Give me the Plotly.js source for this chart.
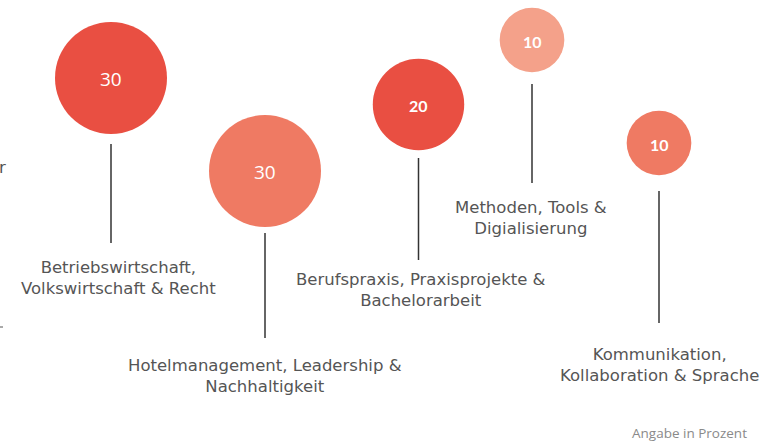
<!DOCTYPE html>
<html>
<head>
<meta charset="utf-8">
<script src="https://cdn.plot.ly/plotly-3.0.1.min.js"></script>
<style>html,body{margin:0;padding:0;background:#fff;}#chart{width:762px;height:442px;}</style>
</head>
<body>
<div id="chart"></div>
<script>
// ---- data ----
const categories = [
  "Betriebswirtschaft,<br>Volkswirtschaft & Recht",
  "Hotelmanagement, Leadership &<br>Nachhaltigkeit",
  "Berufspraxis, Praxisprojekte &<br>Bachelorarbeit",
  "Methoden, Tools &<br>Digialisierung",
  "Kommunikation,<br>Kollaboration & Sprache"
];
const values = [30, 30, 20, 10, 10];
const valueLabels = ["30", "30", "20", "10", "10"];
const note = "Angabe in Prozent";

// ---- layout (positions in the 762x442 canvas frame) ----
const bubbleX = [111, 265, 418.5, 532, 659];
const bubbleY = [78, 171, 104.5, 40, 143];
const lineTop = [144, 233, 158, 84, 191];
const lineBottom = [243, 338, 260, 183, 323];
const labelX = [118, 265, 421, 531, 659];
const labelY = [278, 376, 290, 218, 365];
const colors = ["#E94F42", "#EF7A63", "#E94F42", "#F4A18A", "#EF7A63"];
const numFonts = [
  {family: "Open Sans", size: 19, weight: 400},
  {family: "Open Sans", size: 19, weight: 400},
  {family: "Lato", size: 16, weight: 700},
  {family: "Lato", size: 16, weight: 700},
  {family: "Lato", size: 16, weight: 700}
];

const maxDiameter = 112;
const sizeref = 2 * Math.max(...values) / (maxDiameter * maxDiameter);

const lx = [], ly = [];
bubbleX.forEach((x, i) => { lx.push(x, x, null); ly.push(lineTop[i], lineBottom[i], null); });

const traces = [
  {
    type: "scatter", mode: "lines", x: lx, y: ly,
    line: {color: "#333333", width: 1.5}, hoverinfo: "skip", showlegend: false
  },
  {
    type: "scatter", mode: "markers", x: bubbleX, y: bubbleY,
    marker: {size: values, sizemode: "area", sizeref: sizeref, color: colors, line: {width: 0}, opacity: 1},
    text: categories, hoverinfo: "text", showlegend: false
  }
];

const labelFont = {family: "DejaVu Sans", size: 16.5, color: "#555555"};
const annotations = [];
categories.forEach((c, i) => {
  annotations.push({
    x: labelX[i], y: labelY[i], xref: "x", yref: "y", text: c, showarrow: false,
    font: labelFont, align: "center",
    xanchor: "center", yanchor: "middle"
  });
  annotations.push({
    x: bubbleX[i], y: bubbleY[i] + 1, xref: "x", yref: "y", text: valueLabels[i], showarrow: false,
    font: Object.assign({color: "#ffffff"}, numFonts[i]), xanchor: "center", yanchor: "middle"
  });
});
annotations.push({
  x: 749, y: 433, xref: "x", yref: "y", text: note, showarrow: false,
  font: {family: "Open Sans", size: 13.5, color: "#8a8a8a"}, xanchor: "right", yanchor: "middle"
});
annotations.push({
  x: 0, y: 167, xshift: -3, xref: "x", yref: "y", text: "r", showarrow: false,
  font: labelFont, xanchor: "left", yanchor: "middle"
});

const layout = {
  width: 762, height: 442,
  margin: {l: 0, r: 0, t: 0, b: 0},
  paper_bgcolor: "#ffffff", plot_bgcolor: "#ffffff",
  xaxis: {range: [0, 762], visible: false, fixedrange: true},
  yaxis: {range: [442, 0], visible: false, fixedrange: true},
  annotations: annotations,
  shapes: [{type: "line", xref: "x", yref: "y", x0: 0, x1: 3, y0: 327, y1: 327, line: {color: "#555555", width: 1}}]
};

Plotly.newPlot("chart", traces, layout, {displayModeBar: false, staticPlot: true});
</script>
</body>
</html>
